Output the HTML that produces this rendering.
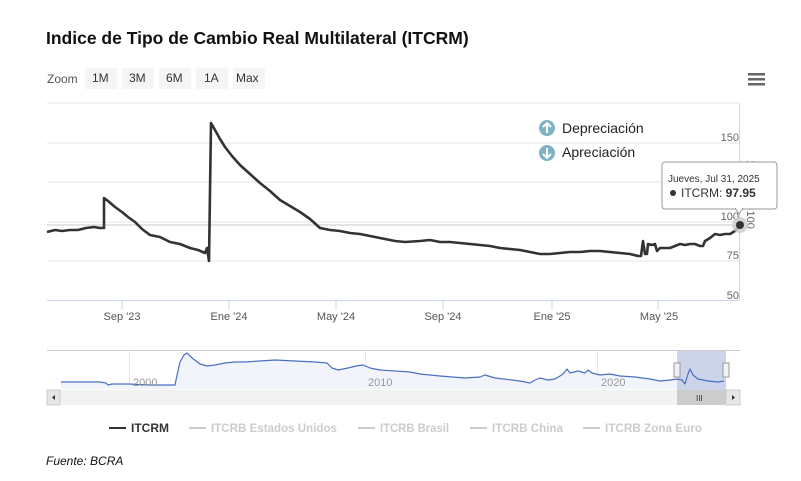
<!DOCTYPE html>
<html><head><meta charset="utf-8"><style>
html,body{margin:0;padding:0;background:#fff;width:801px;height:481px;overflow:hidden}
svg{display:block;font-family:"Liberation Sans",sans-serif}
</style></head><body>
<svg width="801" height="481" viewBox="0 0 801 481">
<text x="46" y="44" font-size="17.5" font-weight="bold" fill="#111">Indice de Tipo de Cambio Real Multilateral (ITCRM)</text>
<text x="47" y="83" font-size="12" fill="#555">Zoom</text>
<g font-size="12" fill="#333">
<rect x="85" y="68" width="32" height="21" fill="#f5f5f5"/><text x="92" y="82">1M</text>
<rect x="122" y="68" width="32" height="21" fill="#f5f5f5"/><text x="129" y="82">3M</text>
<rect x="159" y="68" width="32" height="21" fill="#f5f5f5"/><text x="166" y="82">6M</text>
<rect x="196" y="68" width="32" height="21" fill="#f5f5f5"/><text x="204" y="82">1A</text>
<rect x="233" y="68" width="32" height="21" fill="#f5f5f5"/><text x="236" y="82">Max</text>
</g>
<g fill="#666"><rect x="748" y="73" width="17" height="2.5"/><rect x="748" y="78" width="17" height="2.5"/><rect x="748" y="83" width="17" height="2.5"/></g>
<g stroke="#e6e6e6" stroke-width="1">
<line x1="47" y1="103" x2="739" y2="103"/>
<line x1="47" y1="143" x2="739" y2="143"/>
<line x1="47" y1="182" x2="739" y2="182"/>
<line x1="47" y1="222" x2="739" y2="222"/>
<line x1="47" y1="261" x2="739" y2="261"/>
</g>
<line x1="47" y1="225" x2="739" y2="225" stroke="#c8c8c8"/>
<line x1="47" y1="300.5" x2="739" y2="300.5" stroke="#ccd6eb"/>
<line x1="739.5" y1="103" x2="739.5" y2="300" stroke="#ccd6eb"/>
<g stroke="#ccd6eb"><line x1="122" y1="300" x2="122" y2="310"/><line x1="229" y1="300" x2="229" y2="310"/><line x1="336" y1="300" x2="336" y2="310"/><line x1="443" y1="300" x2="443" y2="310"/><line x1="552" y1="300" x2="552" y2="310"/><line x1="658" y1="300" x2="658" y2="310"/></g>
<g font-size="11" fill="#555" text-anchor="middle">
<text x="122" y="320">Sep '23</text><text x="229" y="320">Ene '24</text><text x="336" y="320">May '24</text><text x="443" y="320">Sep '24</text><text x="552" y="320">Ene '25</text><text x="659" y="320">May '25</text>
</g>
<g font-size="11" fill="#666" text-anchor="end">
<text x="739" y="141">150</text><text x="739" y="220">100</text><text x="739" y="259">75</text><text x="739" y="299">50</text>
</g>
<text transform="translate(747,160) rotate(90)" font-size="11" fill="#666">17-12-15=100</text>
<polyline fill="none" stroke="#333" stroke-width="2.6" stroke-linejoin="round" points="47,232 55,230 62,231 70,230 78,230 86,228 94,227 100,228 104,228 104,198 108,201 115,207 122,212 128,217 135,222 142,229 150,235 160,237 170,242 180,244 190,248 198,250 205,253 207,248 209,261 211,123 215,130 220,139 225,147 232,156 240,165 250,174 260,183 270,191 280,200 290,206 300,212 310,219 320,228 330,230 340,231 350,233 360,234 370,236 380,238 390,240 395,241 405,242 420,241 430,240 440,242 450,242 460,243 470,244 480,245 490,246 500,248 510,249 520,250 530,252 540,254 550,254 560,253 570,252 580,252 590,251 600,251 610,252 620,253 630,254 638,256 641,256 643,241 645,254 647,254 648,244 652,245 655,244 657,251 660,248 665,248 670,248 675,246 680,244 685,245 690,244 695,244 700,246 703,246 705,241 710,238 715,234 720,235 725,234 730,234 735,231 739,226"/>
<circle cx="740" cy="225" r="8" fill="#ccc" opacity="0.8"/><circle cx="740" cy="225" r="4" fill="#333"/>
<circle cx="547" cy="128" r="8" fill="#7fb2c3"/><path d="M547,133 V123 M543,127 L547,123 L551,127" stroke="#fff" stroke-width="2" fill="none"/>
<text x="562" y="133" font-size="14" fill="#222">Depreciación</text>
<circle cx="547" cy="153" r="8" fill="#7fb2c3"/><path d="M547,148 V158 M543,154 L547,158 L551,154" stroke="#fff" stroke-width="2" fill="none"/>
<text x="562" y="157" font-size="14" fill="#222">Apreciación</text>
<rect x="662" y="162" width="115" height="47" rx="3" fill="#fff" stroke="#999" stroke-width="1"/>
<path d="M735,208 L739,214 L743,208" fill="#fff" stroke="#999"/>
<rect x="736" y="206" width="6" height="3" fill="#fff"/>
<text x="668" y="182" font-size="10" fill="#333">Jueves, Jul 31, 2025</text>
<circle cx="673" cy="193" r="3" fill="#333"/>
<text x="681" y="197" font-size="12" fill="#333">ITCRM: <tspan font-weight="bold">97.95</tspan></text>
<!-- navigator -->
<line x1="47" y1="350.5" x2="740" y2="350.5" stroke="#ccc"/>
<g stroke="#e6e6e6"><line x1="129.5" y1="351" x2="129.5" y2="390"/><line x1="365.5" y1="351" x2="365.5" y2="390"/><line x1="597.5" y1="351" x2="597.5" y2="390"/></g>
<polygon fill="#f1f4fa" points="61,382 100,382 106,383 108,385 112,384 128,384 150,385 175,385 176,380 180,362 184,355 187,353 192,358 200,364 207,366 215,365 225,363 235,362 245,362 260,361 275,360 295,361 315,362 327,363 332,368 338,370 348,368 356,366 363,365 370,368 380,370 410,372 420,374 440,376 465,378 480,377 485,375 495,378 520,381 530,383 535,380 540,378 548,380 555,379 560,376 563,374 567,369 570,373 578,371 585,373 588,370 592,373 600,375 610,374 620,376 635,377 650,379 660,381 670,380 677,379 677,389 61,389"/>
<rect x="677" y="351" width="49" height="39" fill="#c3cde5" opacity="0.85"/>
<polyline fill="none" stroke="#4a6fc3" stroke-width="1.2" stroke-linejoin="round" points="61,382 100,382 106,383 108,385 112,384 128,384 150,385 175,385 176,380 180,362 184,355 187,353 192,358 200,364 207,366 215,365 225,363 235,362 245,362 260,361 275,360 295,361 315,362 327,363 332,368 338,370 348,368 356,366 363,365 370,368 380,370 410,372 420,374 440,376 465,378 480,377 485,375 495,378 520,381 530,383 535,380 540,378 548,380 555,379 560,376 563,374 567,369 570,373 578,371 585,373 588,370 592,373 600,375 610,374 620,376 635,377 650,379 660,381 670,380 677,379 682,380 685,384 688,374 690,369 693,375 698,379 708,381 718,382 724,381"/>
<rect x="674" y="363" width="6" height="14" fill="#f2f2f2" stroke="#999"/><rect x="723" y="363" width="6" height="14" fill="#f2f2f2" stroke="#999"/>
<g font-size="11" fill="#999"><text x="133" y="386">2000</text><text x="368" y="386">2010</text><text x="601" y="386">2020</text></g>
<rect x="47" y="390" width="693" height="15" fill="#f2f2f2"/>
<rect x="677" y="390" width="49" height="15" fill="#ccc"/>
<text x="696" y="401" font-size="8" fill="#333">III</text>
<rect x="47" y="390" width="13" height="15" fill="#e6e6e6" stroke="#ccc"/><path d="M55,395 L52,397.5 L55,400Z" fill="#333"/>
<rect x="726" y="390" width="14" height="15" fill="#e6e6e6" stroke="#ccc"/><path d="M732,395 L735,397.5 L732,400Z" fill="#333"/>
<g font-size="12" font-weight="bold">
<line x1="109" y1="428" x2="126" y2="428" stroke="#333" stroke-width="2"/>
<text x="131" y="432" fill="#333" textLength="38" lengthAdjust="spacingAndGlyphs">ITCRM</text>
<line x1="189" y1="428" x2="206" y2="428" stroke="#ccc" stroke-width="2"/>
<text x="211" y="432" fill="#ccc" textLength="126" lengthAdjust="spacingAndGlyphs">ITCRB Estados Unidos</text>
<line x1="358" y1="428" x2="375" y2="428" stroke="#ccc" stroke-width="2"/>
<text x="380" y="432" fill="#ccc" textLength="69" lengthAdjust="spacingAndGlyphs">ITCRB Brasil</text>
<line x1="470" y1="428" x2="487" y2="428" stroke="#ccc" stroke-width="2"/>
<text x="492" y="432" fill="#ccc" textLength="71" lengthAdjust="spacingAndGlyphs">ITCRB China</text>
<line x1="583" y1="428" x2="600" y2="428" stroke="#ccc" stroke-width="2"/>
<text x="605" y="432" fill="#ccc" textLength="97" lengthAdjust="spacingAndGlyphs">ITCRB Zona Euro</text>
</g>
<text x="46" y="465" font-size="12" font-style="italic" fill="#111">Fuente: BCRA</text>
</svg>
</body></html>
